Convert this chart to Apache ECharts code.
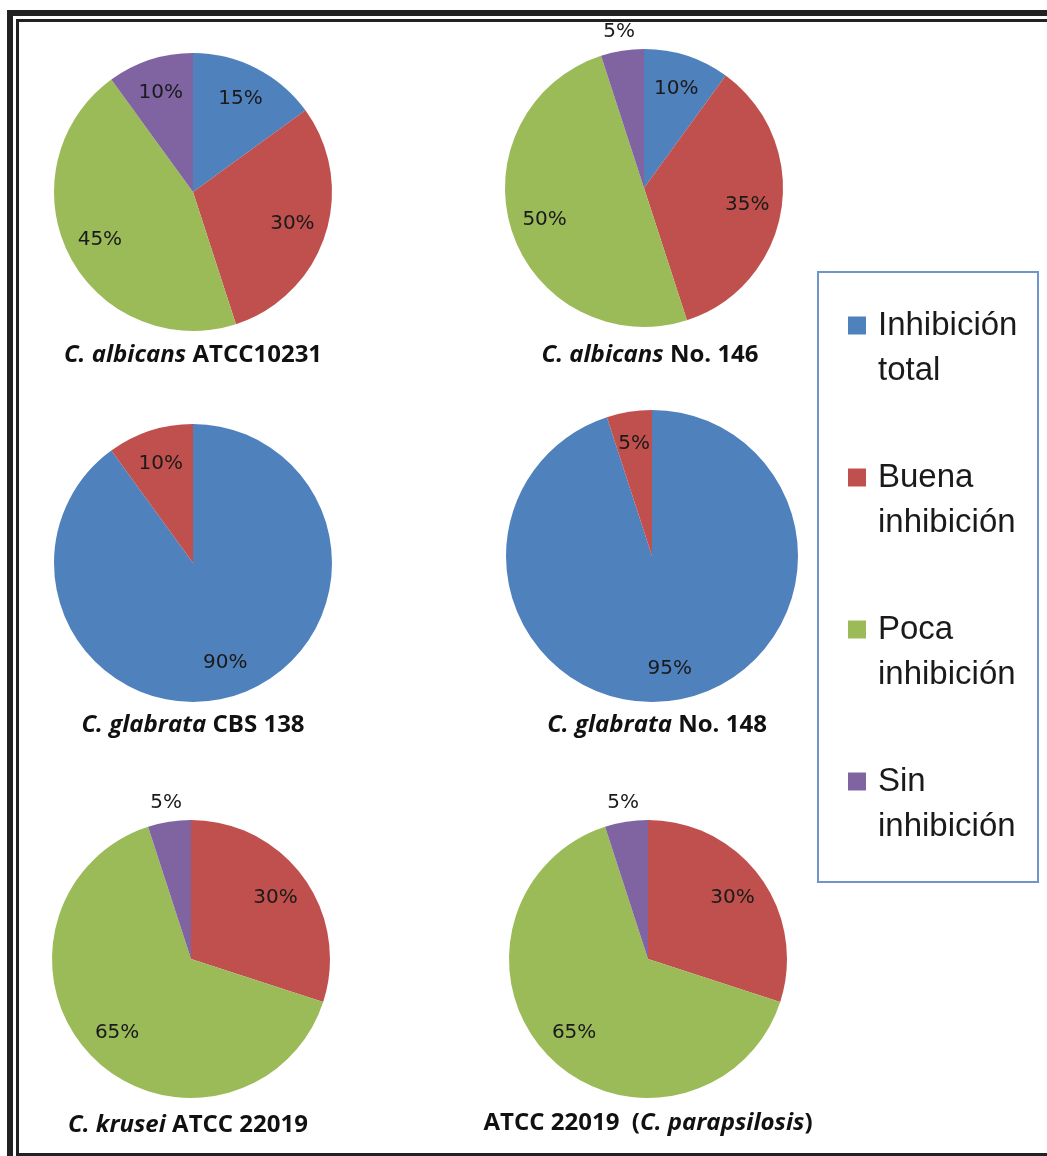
<!DOCTYPE html>
<html>
<head>
<meta charset="utf-8">
<script src="https://cdn.jsdelivr.net/npm/echarts@6/dist/echarts.min.js"></script>
<style>
  html, body { margin: 0; padding: 0; background: #fff; }
  #chart { width: 1047px; height: 1156px; }
</style>
</head>
<body>
<div id="chart"></div>
<script>
// categories (legend order)
var categories = ["Inhibición total", "Buena inhibición", "Poca inhibición", "Sin inhibición"];

// one value list per strain, same order as categories (percent)
var albicans10231 = [15, 30, 45, 10];
var albicans146 = [10, 35, 50, 5];
var glabrataCBS138 = [90, 10, 0, 0];
var glabrata148 = [95, 5, 0, 0];
var krusei22019 = [0, 30, 65, 5];
var parapsilosis22019 = [0, 30, 65, 5];

// strain captions, {i|...} = italic part
var strainTitles = [
  "{i|C. albicans} {b|ATCC10231}",
  "{i|C. albicans} {b|No. 146}",
  "{i|C. glabrata} {b|CBS 138}",
  "{i|C. glabrata} {b|No. 148}",
  "{i|C. krusei} {b|ATCC 22019}",
  "{b|ATCC 22019  (}{i|C. parapsilosis}{b|)}"
];

var pieData = [albicans10231, albicans146, glabrataCBS138, glabrata148, krusei22019, parapsilosis22019];

var colors = ["#4F81BD", "#C0504D", "#9BBB59", "#8064A2"];

// layout of each pie (px)
var centers = [[193, 192], [644, 188], [193, 563], [652, 556], [191, 959], [648, 959]];
var radii = [139, 139, 139, 146, 139, 139];
var titlePos = [[193, 355], [650, 355], [193, 725], [657, 725], [188, 1125], [648, 1123]];
var smallLabelOutside = [true, true, true, false, true, true];

var chart = echarts.init(document.getElementById("chart"), null, { renderer: "canvas" });

function buildItems(values, labelFilter) {
  var items = [];
  values.forEach(function (v, i) {
    if (v <= 0) return;
    items.push({
      name: categories[i],
      value: v,
      itemStyle: { color: labelFilter ? "rgba(0,0,0,0)" : colors[i] },
      label: { show: labelFilter ? labelFilter(v) : false }
    });
  });
  return items;
}

var series = [];
pieData.forEach(function (values, k) {
  var r = radii[k];
  // the visible pie
  series.push({
    type: "pie",
    center: centers[k],
    radius: [0, r],
    startAngle: 90,
    clockwise: true,
    silent: true,
    animation: false,
    label: { show: false },
    labelLine: { show: false },
    itemStyle: { borderWidth: 0 },
    data: buildItems(values)
  });
  var labelStyle = {
    position: "inside",
    formatter: "{c}%",
    fontFamily: "DejaVu Sans",
    fontSize: 20,
    color: "#1a1a1a",
    textBorderWidth: 0
  };
  // transparent ring carrying the inside labels (sits at ~0.73 r)
  series.push({
    type: "pie",
    center: centers[k],
    radius: [Math.round(r * (smallLabelOutside[k] ? 0.46 : 0.52)), r],
    startAngle: 90,
    silent: true,
    animation: false,
    label: labelStyle,
    labelLine: { show: false },
    itemStyle: { borderWidth: 0 },
    emphasis: { disabled: true },
    data: buildItems(values, function (v) {
      return v >= 10 || !smallLabelOutside[k];
    })
  });
  // transparent outer ring for small slices whose label sits outside
  series.push({
    type: "pie",
    center: centers[k],
    radius: [r, Math.round(r * 1.24)],
    startAngle: 90,
    silent: true,
    animation: false,
    label: labelStyle,
    labelLine: { show: false },
    itemStyle: { borderWidth: 0 },
    emphasis: { disabled: true },
    data: buildItems(values, function (v) {
      return v < 10 && smallLabelOutside[k];
    })
  });
});

var graphics = [
  // double frame, left / top / bottom
  { type: "rect", shape: { x: 7, y: 10, width: 1040, height: 6 }, style: { fill: "#222" } },
  { type: "rect", shape: { x: 7, y: 10, width: 6, height: 1146 }, style: { fill: "#222" } },
  { type: "rect", shape: { x: 16, y: 19, width: 1031, height: 3 }, style: { fill: "#222" } },
  { type: "rect", shape: { x: 16, y: 19, width: 3, height: 1137 }, style: { fill: "#222" } },
  { type: "rect", shape: { x: 16, y: 1153, width: 1031, height: 3 }, style: { fill: "#222" } },
  // legend box
  { type: "rect", shape: { x: 818, y: 272, width: 220, height: 610 }, style: { fill: "none", stroke: "#6F95CB", lineWidth: 2 } }
];

strainTitles.forEach(function (t, k) {
  graphics.push({
    type: "text",
    x: titlePos[k][0],
    y: titlePos[k][1],
    style: {
      text: t,
      align: "center",
      verticalAlign: "middle",
      fontFamily: "Open Sans",
      fontSize: 24,
      fontWeight: "bold",
      fill: "#111",
      rich: {
        i: { fontFamily: "Open Sans", fontSize: 24, fontWeight: "bold", fontStyle: "italic", color: "#111" },
        b: { fontFamily: "Open Sans", fontSize: 24, fontWeight: "bold", color: "#111" }
      }
    }
  });
});

var option = {
  backgroundColor: "#fff",
  animation: false,
  legend: {
    orient: "vertical",
    left: 848,
    top: 258,
    padding: 0,
    itemWidth: 18,
    itemHeight: 18,
    itemGap: 17,
    icon: "rect",
    selectedMode: false,
    data: categories,
    // blank first line so the icon lines up with the first text line
    formatter: function (name) {
      return "\n" + name.replace(" ", "\n");
    },
    textStyle: {
      fontFamily: "Liberation Sans",
      fontSize: 33,
      lineHeight: 45,
      color: "#1a1a1a",
      padding: [0, 0, 0, 7]
    }
  },
  series: series,
  graphic: graphics
};

chart.setOption(option);
</script>
</body>
</html>
